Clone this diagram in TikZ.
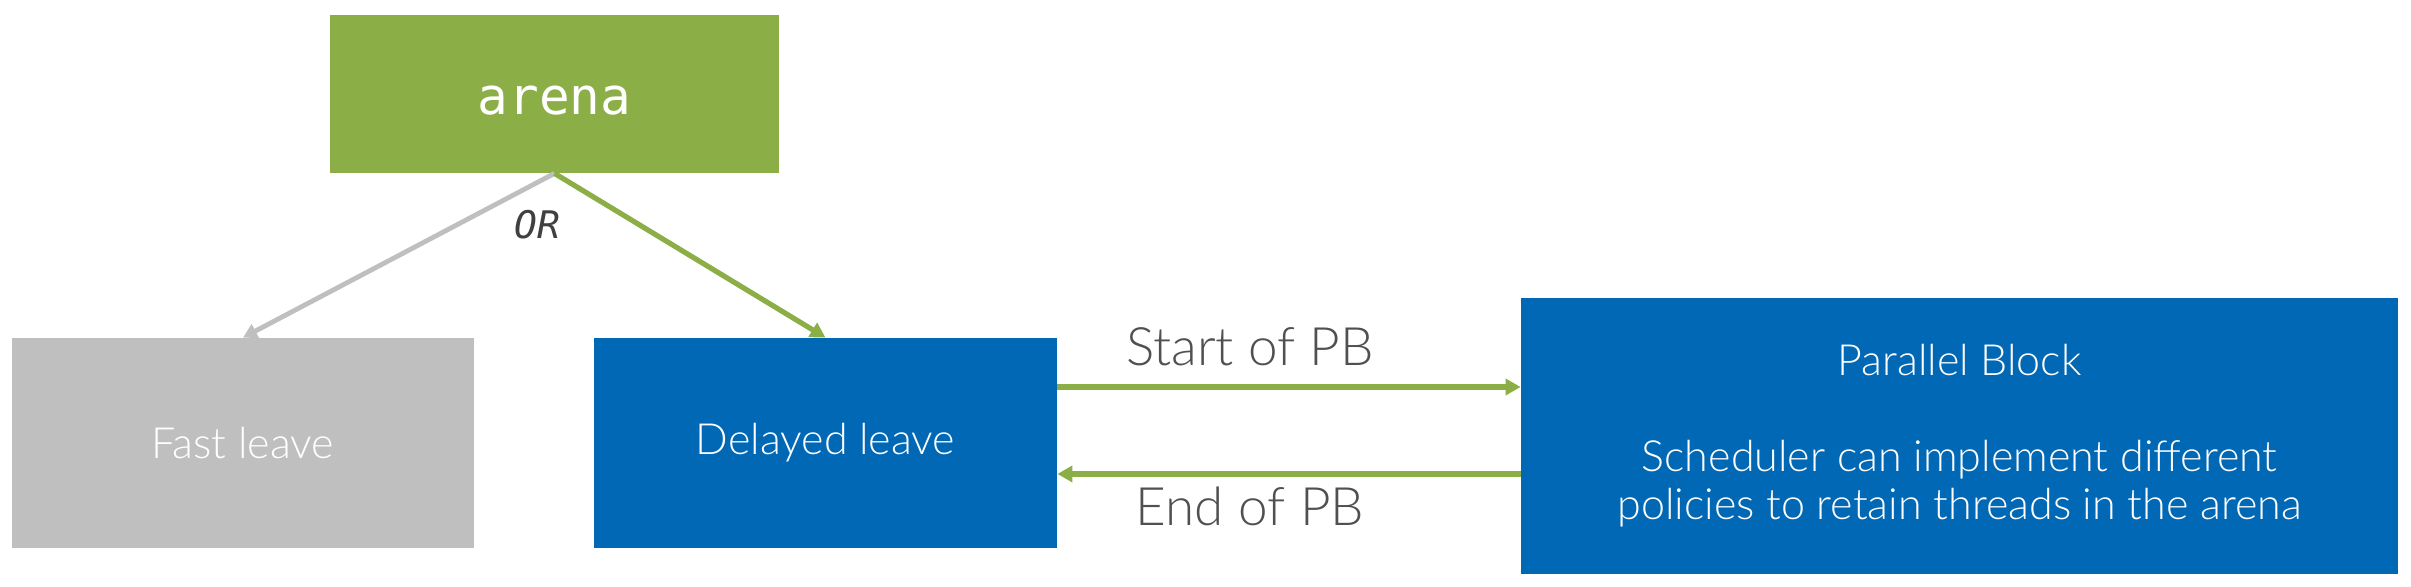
\documentclass[tikz,border=0pt]{standalone}
\usepackage{fontspec}
\setmainfont{Lato Light}
\newfontfamily\codefont{DejaVu Sans Mono}
\usetikzlibrary{arrows.meta}

\definecolor{leafgreen}{RGB}{139,174,70}
\definecolor{intelblue}{RGB}{0,104,181}
\definecolor{silver}{RGB}{191,191,191}
\definecolor{slate}{RGB}{80,80,80}
\definecolor{darkslate}{RGB}{64,64,64}

\begin{document}
\begin{tikzpicture}[x=0.5pt,y=0.5pt,
        box/.style={inner sep=0pt,text=white,align=center,font=\fontsize{21.5}{24}\selectfont},
        flow/.style={leafgreen,line width=2.6pt,-{Triangle[length=7.5pt,width=8pt]}},
        fade/.style={silver,line width=2.4pt,-{Triangle[length=7pt,width=7.5pt]}},
        tag/.style={inner sep=0pt,text=slate,font=\fontsize{26.5}{28}\selectfont}]

        \useasboundingbox (0,0) rectangle (2411,587);

        % boxes
        \node[box,fill=leafgreen,minimum width=224.5pt,minimum height=79pt,text height=21pt,
              font=\codefont\fontsize{25.5}{28}\selectfont] (arena) at (554.5,493) {arena};

        \node[box,fill=silver,minimum width=231pt,minimum height=105pt] (fast) at (243,144) {Fast leave};
        \node[box,fill=intelblue,minimum width=231.5pt,minimum height=105pt] (delayed) at (825.5,144) {Delayed leave};

        \node[box,fill=intelblue,minimum width=438.5pt,minimum height=138pt] (pb) at (1959.5,151)
            {Parallel Block\\[24pt]Scheduler can implement different\\policies to retain threads in the arena};

        \node[font=\codefont\itshape\fontsize{19}{22}\selectfont,text=darkslate] (or) at (537,362) {OR};

        % arena -> leave
        \draw[fade] (arena.south) -- (fast.north);
        \draw[flow] (arena.south) -- (delayed.north);

        % parallel block
        \coordinate (go) at ([yshift=28pt]delayed.east);
        \coordinate (back) at ([yshift=-15.5pt]delayed.east);

        \draw[flow] (go) -- (go -| pb.west)
            node[midway,above=9pt,xshift=-19.5pt,tag] (start) {Start of PB};
        \draw[flow] (back -| pb.west) -- (back)
            node[midway,below=5pt,xshift=-19.5pt,tag] (end) {End of PB};

\end{tikzpicture}
\end{document}
